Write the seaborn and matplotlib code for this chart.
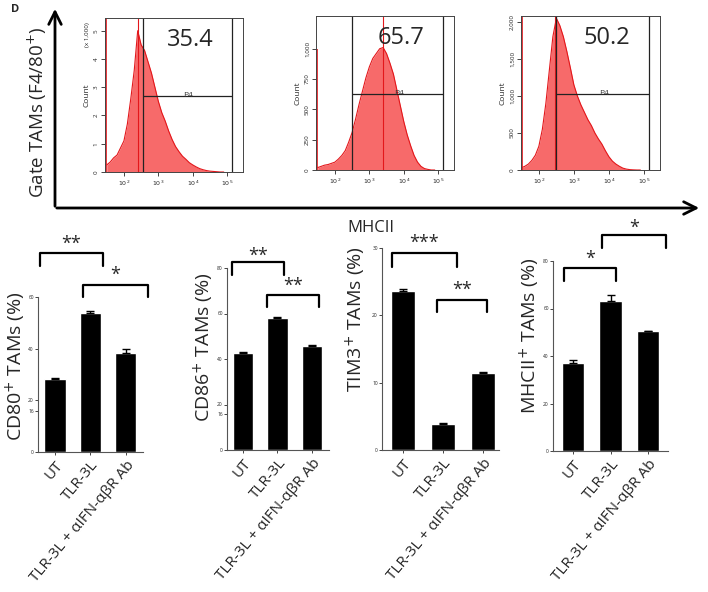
import numpy as np
import pandas as pd
import seaborn as sns
import matplotlib.pyplot as plt

sns.set_style("ticks")
plt.rcParams['font.family'] = ['Open Sans', 'DejaVu Sans']

###### data
# flow histograms (MHCII on gated TAMs), log10 of fluorescence vs count
log_bins = [1.5, 1.6, 1.7, 1.8, 1.9, 2.0, 2.1, 2.2, 2.3, 2.4, 2.5, 2.6, 2.7, 2.8, 2.9,
            3.0, 3.1, 3.2, 3.3, 3.4, 3.5, 3.6, 3.7, 3.8, 3.9, 4.0, 4.1, 4.2, 4.3, 4.4,
            4.5, 4.6, 4.7, 4.8, 4.9]
counts_ut = [0.25, 0.35, 0.5, 0.6, 0.85, 1.1, 1.7, 2.6, 3.6, 5.0, 4.5, 4.3, 3.9, 3.5, 3.0,
             2.5, 2.1, 1.8, 1.45, 1.15, 0.9, 0.72, 0.56, 0.45, 0.33, 0.25, 0.18, 0.12, 0.08, 0.05,
             0.03, 0.02, 0.01, 0.0, 0.0]  # x 1,000
counts_tlr = [20, 30, 40, 45, 55, 65, 90, 120, 160, 230, 310, 420, 540, 650, 760,
              850, 920, 960, 1000, 1010, 960, 880, 790, 660, 530, 400, 290, 200, 120, 65,
              30, 12, 5, 0, 0]
counts_ab = [30, 50, 80, 130, 200, 320, 550, 900, 1350, 1800, 2050, 1950, 1800, 1600, 1380,
             1150, 1000, 880, 780, 680, 600, 500, 420, 350, 260, 180, 120, 80, 50, 25,
             12, 5, 2, 0, 0]
gate_pct = ["35.4", "65.7", "50.2"]
gate_lo = [2.55, 2.49, 2.50]
gate_hi = [5.14, 5.14, 5.14]
gate_level = [2.7, 630, 1030]
peak_pos = [2.4, 3.4, 2.45]
edge_counts = [5.45, 1000, 2080]

# bar charts
groups = ["UT", "TLR-3L", "TLR-3L + αIFN-αβR Ab"]
cd80 = [28.3, 53.9, 38.4]
cd80_err = [0.5, 0.5, 1.6]
cd86 = [42.5, 58.2, 45.6]
cd86_err = [0.4, 0.3, 0.7]
tim3 = [23.6, 3.9, 11.4]
tim3_err = [0.3, 0.1, 0.2]
mhcii = [37.0, 63.2, 50.4]
mhcii_err = [1.5, 2.3, 0.3]
# significance: (left, right, label)
sig_cd80 = [(-0.42, 1.36, "**"), (0.79, 2.63, "*")]
sig_cd86 = [(-0.32, 1.19, "**"), (0.70, 2.20, "**")]
sig_tim3 = [(-0.27, 1.35, "***"), (0.85, 2.10, "**")]
sig_mhcii = [(-0.24, 1.15, "*"), (0.77, 2.48, "*")]

W, H = 708, 592
fig = plt.figure(figsize=(W / 100, H / 100), dpi=100)


def box(l, t, r, b):
    return [l / W, 1 - b / H, (r - l) / W, (b - t) / H]


# overlay for arrows and big labels (pixel coords)
ov = fig.add_axes([0, 0, 1, 1])
ov.set_xlim(0, W)
ov.set_ylim(H, 0)
ov.axis("off")
ov.annotate("", xy=(55, 6), xytext=(55, 209),
            arrowprops=dict(arrowstyle="->,head_length=0.9,head_width=0.45", lw=2, color="black"))
ov.annotate("", xy=(702, 208), xytext=(54, 208),
            arrowprops=dict(arrowstyle="->,head_length=0.9,head_width=0.45", lw=2, color="black"))
ov.text(37, 112, "Gate TAMs (F4/80$^{+}$)", rotation=90, ha="center", va="center", fontsize=13.5)
ov.text(371, 228, "MHCII", ha="center", va="center", fontsize=12)
ov.text(15, 10, "D", ha="center", va="center", fontsize=8, fontweight="bold")

###### histograms
hist_boxes = [(105, 18, 243, 172), (316, 16, 454, 170), (521, 16, 660, 170)]
hist_xlim = [(1.45, 5.46), (1.45, 5.46), (1.49, 5.46)]
hist_ylim = [5.45, 1270, 2080]
hist_yticks = [[0, 1, 2, 3, 4, 5], [0, 250, 500, 750, 1000], [0, 500, 1000, 1500, 2000]]
hist_ylabels = [["0", "1", "2", "3", "4", "5"], ["0", "250", "500", "750", "1,000"],
                ["0", "500", "1,000", "1,500", "2,000"]]
all_counts = [counts_ut, counts_tlr, counts_ab]

for i in range(3):
    ax = fig.add_axes(box(*hist_boxes[i]))
    xs = [10 ** v for v in log_bins]
    df = pd.DataFrame({"x": xs, "count": all_counts[i]})
    ax.fill_between(df["x"], df["count"], color="#f76a6a", lw=0)
    sns.lineplot(data=df, x="x", y="count", ax=ax, color="#e3171b", lw=0.8)
    ax.vlines(10 ** peak_pos[i], 0, hist_ylim[i], color="#e3171b", lw=0.8)
    ax.vlines(10 ** (hist_xlim[i][0] + 0.02), 0, edge_counts[i], color="#e3171b", lw=1.2)
    ax.set_xscale("log")
    ax.set_xlim(10 ** hist_xlim[i][0], 10 ** hist_xlim[i][1])
    ax.set_ylim(0, hist_ylim[i])
    # gate
    ax.axvline(10 ** gate_lo[i], color="#222222", lw=0.9)
    ax.axvline(10 ** gate_hi[i], color="#222222", lw=0.9)
    ax.hlines(gate_level[i], 10 ** gate_lo[i], 10 ** gate_hi[i], color="#222222", lw=0.9)
    ax.text(10 ** 3.85, gate_level[i], "P4", ha="center", va="center", fontsize=6, color="#333333")
    ax.text(0.62, 0.86, gate_pct[i], transform=ax.transAxes, ha="center", va="center", fontsize=17)
    ax.set_xticks([1e2, 1e3, 1e4, 1e5])
    ax.set_xticklabels(["$10^{2}$", "$10^{3}$", "$10^{4}$", "$10^{5}$"], fontsize=4.5)
    ax.set_yticks(hist_yticks[i])
    ax.set_yticklabels(hist_ylabels[i], fontsize=4.5, rotation=90, va="center")
    ax.tick_params(axis="both", length=3, width=0.6, pad=1.5)
    ax.tick_params(axis="both", which="minor", length=1.8, width=0.5)
    ax.set_xlabel("")
    ax.set_ylabel("Count", fontsize=6, labelpad=2)
    for s in ax.spines.values():
        s.set_linewidth(0.7)
        s.set_color("#444444")
    if i == 0:
        ax.text(-0.13, 0.97, "(x 1,000)", transform=ax.transAxes, rotation=90,
                ha="center", va="top", fontsize=4.5)

###### bar charts
bar_boxes = [(38, 297, 143, 452), (227, 268, 329, 450), (382, 248, 499, 450), (553, 261, 668, 451)]
bar_vals = [cd80, cd86, tim3, mhcii]
bar_errs = [cd80_err, cd86_err, tim3_err, mhcii_err]
bar_ylim = [60, 80, 30, 80]
bar_yticks = [[0, 16, 20, 40, 60], [0, 16, 20, 40, 60, 80], [0, 10, 20, 30], [0, 20, 40, 60, 80]]
bar_xlim = [(-0.48, 2.49), (-0.47, 2.5), (-0.52, 2.4), (-0.53, 2.53)]
bar_ylabels = ["CD80$^{+}$ TAMs (%)", "CD86$^{+}$ TAMs (%)",
               "TIM3$^{+}$ TAMs (%)", "MHCII$^{+}$ TAMs (%)"]
label_pos = [(16, 366), (204, 347), (356, 319), (530, 336)]
sigs = [sig_cd80, sig_cd86, sig_tim3, sig_mhcii]
# bracket heights (top, leg bottom, star y) in data units
sig_levels = [[(77, 72, 80.5), (64.7, 60, 68.5)],
              [(82.6, 77, 85.5), (68, 63, 72)],
              [(29.3, 27.2, 30.7), (22.3, 20.5, 23.8)],
              [(77, 71.6, 81), (91, 85.5, 94)]]

for i in range(4):
    ax = fig.add_axes(box(*bar_boxes[i]))
    df = pd.DataFrame({"group": groups, "value": bar_vals[i]})
    sns.barplot(data=df, x="group", y="value", color="black", width=0.6,
                errorbar=None, ax=ax, saturation=1)
    ax.errorbar(range(3), bar_vals[i], yerr=[[0, 0, 0], bar_errs[i]], fmt="none",
                ecolor="black", elinewidth=1, capsize=3, capthick=1)
    ax.set_xlim(*bar_xlim[i])
    ax.set_ylim(0, bar_ylim[i])
    ax.set_yticks(bar_yticks[i])
    ax.set_yticklabels([str(t) for t in bar_yticks[i]], fontsize=3.5)
    ax.set_xticks(range(3))
    ax.set_xticklabels(groups, rotation=50, ha="right", rotation_mode="anchor", fontsize=11)
    ax.tick_params(axis="y", length=2, width=0.6, pad=1)
    ax.tick_params(axis="x", length=2, width=0.6, pad=2)
    ax.set_xlabel("")
    ax.set_ylabel("")
    sns.despine(ax=ax)
    for s in ["left", "bottom"]:
        ax.spines[s].set_linewidth(0.8)
        ax.spines[s].set_color("#555555")
    ov.text(label_pos[i][0], label_pos[i][1], bar_ylabels[i], rotation=90,
            ha="center", va="center", fontsize=14)
    for (x0, x1, lab), (ytop, yleg, ystar) in zip(sigs[i], sig_levels[i]):
        ax.plot([x0, x0, x1, x1], [yleg, ytop, ytop, yleg], color="black", lw=1.6, clip_on=False)
        ax.text((x0 + x1) / 2, ystar, lab, ha="center", va="center", fontsize=13, clip_on=False)

fig.savefig("out.png", dpi=100)
